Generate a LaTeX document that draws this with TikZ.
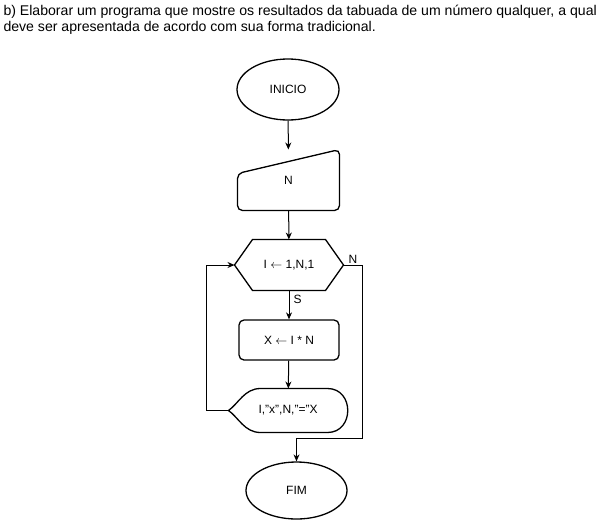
\documentclass[tikz,border=0pt]{standalone}
\usepackage{fontspec}
\setmainfont{Liberation Sans}
\usetikzlibrary{shapes.geometric,arrows.meta}
\tikzset{every path/.style={black,line width=1pt}, box/.style={draw=none,minimum width=101pt,inner sep=0pt,font=\fontsize{12}{14}\selectfont}}
\tikzset{term/.style={box,ellipse,draw,line width=1.3pt}, conn/.style={-{Stealth[length=7pt,width=6pt]}}}

\begin{document}
\begin{tikzpicture}[x=1pt,y=-1pt]
  \useasboundingbox (0,0) rectangle (601,522);
  \node[anchor=north west,align=left,inner sep=0pt,font=\fontsize{14.1}{16}\selectfont] (title) at (3,5)
   {b) Elaborar um programa que mostre os resultados da tabuada de um número qualquer, a qual\\
    deve ser apresentada de acordo com sua forma tradicional.};
  \node[term,minimum width=102pt,minimum height=61pt] (ini) at (288,89.5) {INICIO};
  \node[box,minimum height=60pt] (n) at (288.5,180) {N};
  \node[box,minimum width=108pt,minimum height=50pt] (hex) at (289,265) {I $\leftarrow$ 1,N,1};
  \node[box,minimum width=100pt,minimum height=40pt,draw,rounded corners=5pt,line width=1.3pt] (proc) at (289,340) {X $\leftarrow$ I * N};
  \node[box,minimum width=118pt,minimum height=43pt] (disp) at (288,410.5) {I,"x",N,"="X};
  \node[term,minimum width=101pt,minimum height=57pt] (fim) at (296.5,490.5) {FIM};
  \draw[line width=1.3pt,rounded corners=5pt]
   (n.south west) -- ([yshift=-24pt]n.north west) -- (n.north east) -- (n.south east) -- cycle;
  \draw[line width=1.3pt]
   (hex.west) -- ([xshift=18pt]hex.north west) -- ([xshift=-18pt]hex.north east) -- (hex.east)
   -- ([xshift=-18pt]hex.south east) -- ([xshift=18pt]hex.south west) -- cycle;
  \draw[line width=1.3pt]
   (disp.west) .. controls ([xshift=10pt,yshift=7pt]disp.west) and ([xshift=16pt]disp.north west) .. ([xshift=32pt]disp.north west)
   -- ([xshift=-20pt]disp.north east) .. controls ([xshift=7pt]disp.north east) and ([xshift=7pt]disp.south east) .. ([xshift=-20pt]disp.south east)
   -- ([xshift=32pt]disp.south west) .. controls ([xshift=16pt]disp.south west) and ([xshift=10pt,yshift=-7pt]disp.west) .. (disp.west);
  \draw[conn] (ini) -- (n);
  \draw[conn] (n) -- (hex);
  \draw[conn] (hex) -- node[right,pos=0.3,inner sep=4pt,font=\fontsize{12}{14}\selectfont] {S} (proc);
  \draw[conn] (proc) -- (disp);
  \draw[conn] (disp.west) -- ++(-22,0) |- (hex.west);
  \draw[conn] (hex.east) -- node[above,inner sep=1pt,font=\fontsize{12}{14}\selectfont] {N} ++(19,0) -- ++(0,173) -| (fim.north);
\end{tikzpicture}
\end{document}
